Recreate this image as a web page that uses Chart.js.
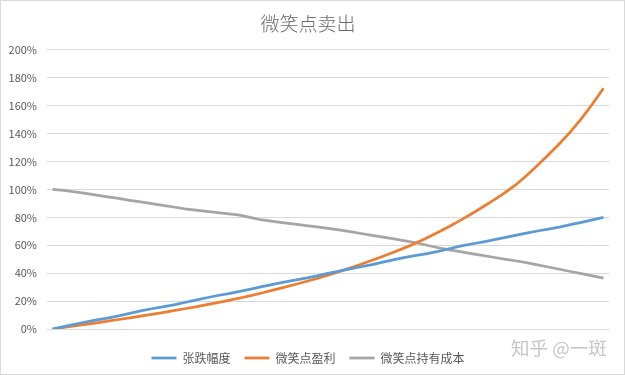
<!DOCTYPE html>
<html>
<head>
<meta charset="utf-8">
<script src="https://cdn.jsdelivr.net/npm/chart.js@4"></script>
<style>
  body { margin: 0; background: #fff; }
  #wrap { position: relative; width: 625px; height: 375px; box-sizing: border-box; border: 1px solid #d9d9d9; }
  #mark { position: absolute; left: 510px; top: 333px; font: 18.5px "Noto Sans CJK SC", sans-serif; color: #c6c6c6; white-space: nowrap; }
</style>
</head>
<body>
<div id="wrap">
  <canvas id="myChart"></canvas>
  <div id="mark">知乎 @一斑</div>
</div>
<script>
'use strict';

// category labels (no text shown on the axis)
let steps = [];
for (let i = 1; i <= 51; i++) {
  steps.push(String(i));
}

// series values, in percent
let changeVals = [0, 1.7, 3.4, 5.0, 6.5, 7.8, 9.4, 11.2, 13.0, 14.5, 15.8, 17.3, 19.0, 20.7, 22.4, 24.0, 25.4,
  26.9, 28.6, 30.3, 32.0, 33.6, 35.0, 36.4, 38.0, 39.8, 41.5, 43.1, 44.6, 46.1, 47.9, 49.7, 51.3, 52.7,
  54.0, 55.6, 57.5, 59.3, 60.9, 62.3, 63.8, 65.4, 67.0, 68.7, 70.2, 71.5, 73.0, 74.7, 76.4, 78.2, 80.0];

let profitVals = [0, 1.1, 2.2, 3.3, 4.4, 5.6, 6.8, 8.0, 9.2, 10.5, 11.8, 13.1, 14.5, 15.9, 17.4, 18.9, 20.5,
  22.2, 23.9, 25.8, 27.8, 29.8, 31.9, 34.0, 36.2, 38.6, 41.1, 43.7, 46.4, 49.2, 52.1, 55.1, 58.3, 61.6,
  65.4, 69.3, 73.4, 77.8, 82.4, 87.2, 92.2, 97.4, 103.0, 109.8, 117.2, 124.8, 132.7, 141.2, 150.7, 161.2, 172.4];

let costVals = [100, 99.3, 98.3, 97.1, 95.9, 94.7, 93.5, 92.2, 91.0, 89.8, 88.6, 87.4, 86.1, 85.2, 84.3, 83.4,
  82.5, 81.5, 79.8, 78.1, 77.1, 76.1, 75.1, 74.1, 73.1, 72.1, 71.0, 69.7, 68.4, 67.1, 65.8, 64.5, 63.2,
  61.8, 60.0, 58.2, 56.7, 55.4, 54.0, 52.7, 51.4, 50.1, 48.9, 47.5, 45.9, 44.4, 42.8, 41.2, 39.6, 38.1, 36.5];

let seriesNames = ['张跌幅度', '微笑点盈利', '微笑点持有成本'];
let seriesColors = ['#5b9bd5', '#ed7d31', '#a5a5a5'];

const ctx = document.getElementById('myChart').getContext('2d');

Chart.defaults.font.family = '"Noto Sans CJK SC", "Liberation Sans", sans-serif';
Chart.defaults.color = '#595959';

function makeSet(i, vals) {
  return {
    label: seriesNames[i],
    data: vals,
    borderColor: seriesColors[i],
    backgroundColor: seriesColors[i],
    borderWidth: 2.75,
    pointRadius: 0,
    tension: 0
  };
}

const chartObj = {
  type: 'line',
  data: {
    labels: steps,
    datasets: [makeSet(0, changeVals), makeSet(1, profitVals), makeSet(2, costVals)]
  },
  options: {
    responsive: true,
    maintainAspectRatio: false,
    animation: false,
    layout: { padding: { left: 6, right: 15, top: 0, bottom: 0 } },
    plugins: {
      title: {
        display: true,
        text: '微笑点卖出',
        color: '#6a6a6a',
        font: { size: 19, weight: 300 },
        padding: { top: 11, bottom: 15 }
      },
      legend: {
        position: 'bottom',
        labels: {
          usePointStyle: true,
          pointStyle: 'line',
          pointStyleWidth: 25,
          padding: 14,
          color: '#595959',
          font: { size: 12 }
        }
      },
      tooltip: { enabled: false }
    },
    scales: {
      x: {
        offset: true,
        grid: { display: false, drawTicks: false },
        border: { display: false },
        ticks: { display: false },
        afterFit: function (s) { s.height = 9; }
      },
      y: {
        min: 0,
        max: 200,
        grid: { color: '#d9d9d9', drawTicks: false },
        border: { display: false },
        ticks: {
          stepSize: 20,
          padding: 10,
          color: '#595959',
          font: { size: 11 },
          callback: function (v) { return v + '%'; }
        },
        afterFit: function (s) { s.width = 40; }
      }
    }
  }
};

const myChart = new Chart(ctx, chartObj); // eslint-disable-line
</script>
</body>
</html>
